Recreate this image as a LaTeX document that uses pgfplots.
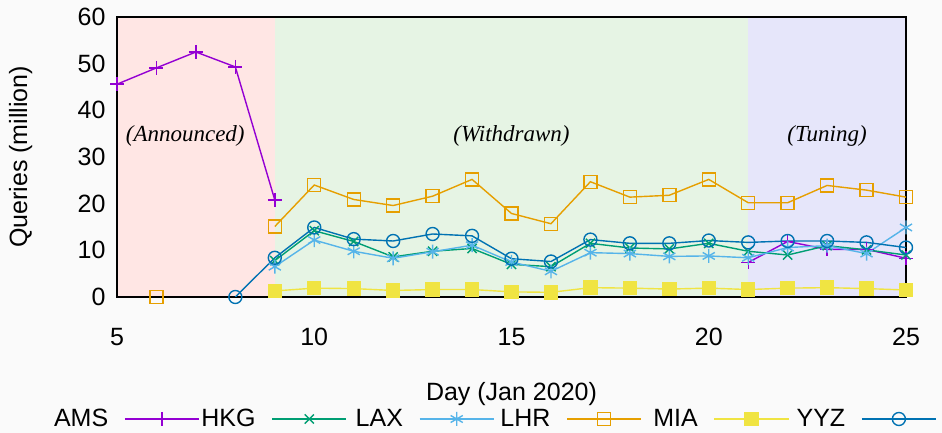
\documentclass[border=0pt]{standalone}
\usepackage{fontspec}
\setmainfont{Liberation Sans}
\newfontfamily\phasefont{Liberation Serif}
\usepackage{pgfplots}
\pgfplotsset{compat=1.18}

\definecolor{cAMS}{HTML}{9400D3}
\definecolor{cHKG}{HTML}{009E73}
\definecolor{cLAX}{HTML}{56B4E9}
\definecolor{cLHR}{HTML}{E69F00}
\definecolor{cMIA}{HTML}{F0E442}
\definecolor{cYYZ}{HTML}{0072B2}
\definecolor{bgAnn}{HTML}{FFE6E4}
\definecolor{bgWd}{HTML}{E6F4E4}
\definecolor{bgTun}{HTML}{E6E6FA}
\definecolor{pagebg}{HTML}{FAFAFA}
\pagecolor{pagebg}

% legend titles are right-aligned in equal-width boxes
\newcommand{\keytext}[1]{\makebox[54pt][r]{#1}}

\begin{document}
\begin{tikzpicture}[font=\fontsize{25}{29}\selectfont]
\begin{axis}[
  set layers,
  scale only axis,
  width=789pt, height=280pt,
  at={(0pt,0pt)}, anchor=south west,
  xmin=5, xmax=25, ymin=0, ymax=60,
  xtick={5,10,...,25}, ytick={0,10,...,60},
  major tick length=0pt,
  axis line style={line width=1.2pt},
  /pgf/number format/assume math mode=true,
  xticklabel style={yshift=-28pt},
  yticklabel style={xshift=-8pt},
  xlabel={Day (Jan 2020)},
  ylabel={Queries (million)},
  xlabel style={at={(axis description cs:0.5,0)}, anchor=center, yshift=-97pt},
  ylabel style={at={(axis description cs:-0.122,0.5)}, anchor=center},
  unbounded coords=jump,
  every axis plot/.append style={line width=1.4pt, mark options={solid, line width=1.4pt}},
  legend columns=6,
  legend plot pos=right,
  legend style={at={(-64pt,-122pt)}, anchor=west, draw=none, fill=none,
    inner sep=0pt, nodes={inner sep=1pt, font=\fontsize{25}{29}\selectfont},
    /tikz/every even column/.append style={column sep=1pt},
    /tikz/every odd column/.append style={column sep=15pt}},
  legend image code/.code={\draw[mark repeat=2,mark phase=2] plot coordinates {(0pt,0pt) (37pt,0pt) (74pt,0pt)};},
]
\begin{pgfonlayer}{axis background}
  \fill[bgAnn] (axis cs:5,0) rectangle (axis cs:9,60);
  \fill[bgWd] (axis cs:9,0) rectangle (axis cs:21,60);
  \fill[bgTun] (axis cs:21,0) rectangle (axis cs:25,60);
\end{pgfonlayer}

% AMS
\addplot[color=cAMS, mark=+, mark size=7pt] coordinates {
 (5,45.6) (6,49.1) (7,52.5) (8,49.3) (9,20.8) (10,nan) (20,nan)
 (21,7.4) (22,11.9) (23,10.2) (24,10.2) (25,8.3)};
\addlegendentry{\keytext{AMS}}
% HKG
\addplot[color=cHKG, mark=x, mark size=6.5pt] coordinates {
 (9,7.8) (10,14.2) (11,11.9) (12,8.6) (13,9.8) (14,10.4) (15,7.0) (16,6.5)
 (17,11.5) (18,10.5) (19,10.3) (20,11.5) (21,9.8) (22,9.0) (23,11.0) (24,10.1) (25,9.0)};
\addlegendentry{\keytext{HKG}}
% LAX
\addplot[color=cLAX, mark=asterisk, mark size=7pt] coordinates {
 (9,6.5) (10,12.2) (11,9.8) (12,8.3) (13,9.7) (14,11.1) (15,7.5) (16,5.5)
 (17,9.5) (18,9.3) (19,8.7) (20,8.8) (21,8.4) (22,10.6) (23,11.0) (24,9.3) (25,14.9)};
\addlegendentry{\keytext{LAX}}
% LHR
\addplot[color=cLHR, mark=square, mark size=6.5pt] coordinates {
 (6,0) (7,nan) (8,nan)
 (9,15.1) (10,24.0) (11,20.9) (12,19.6) (13,21.6) (14,25.2) (15,17.9) (16,15.7)
 (17,24.7) (18,21.4) (19,21.8) (20,25.2) (21,20.2) (22,20.2) (23,23.9) (24,22.9) (25,21.4)};
\addlegendentry{\keytext{LHR}}
% MIA
\addplot[color=cMIA, mark=square*, mark size=6.5pt, mark options={fill=cMIA}] coordinates {
 (9,1.3) (10,1.9) (11,1.8) (12,1.4) (13,1.6) (14,1.6) (15,1.1) (16,1.0)
 (17,2.0) (18,1.9) (19,1.7) (20,1.9) (21,1.6) (22,1.9) (23,2.0) (24,1.8) (25,1.5)};
\addlegendentry{\keytext{MIA}}
% YYZ
\addplot[color=cYYZ, mark=o, mark size=6.5pt] coordinates {
 (8,0) (9,8.4) (10,14.9) (11,12.4) (12,12.0) (13,13.5) (14,13.1) (15,8.2) (16,7.6)
 (17,12.3) (18,11.5) (19,11.5) (20,12.1) (21,11.7) (22,12.0) (23,12.0) (24,11.7) (25,10.6)};
\addlegendentry{\keytext{YYZ}}

\node[font=\phasefont\itshape\fontsize{23}{27}\selectfont] at (axis cs:6.73,34.5) {(Announced)};
\node[font=\phasefont\itshape\fontsize{23}{27}\selectfont] at (axis cs:15,34.5) {(Withdrawn)};
\node[font=\phasefont\itshape\fontsize{23}{27}\selectfont] at (axis cs:23,34.5) {(Tuning)};
\end{axis}
\pgfresetboundingbox
\useasboundingbox (-117pt,-136pt) rectangle (825pt,297pt);
\end{tikzpicture}
\end{document}
